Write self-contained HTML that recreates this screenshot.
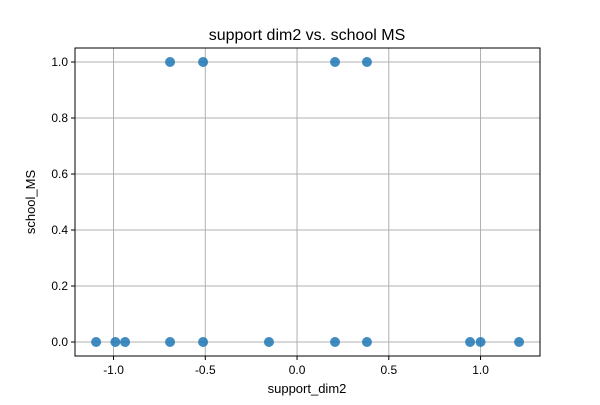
<!DOCTYPE html>
<html><head><meta charset="utf-8"><style>
body{margin:0;background:#fff;font-family:"Liberation Sans","DejaVu Sans",sans-serif}
</style></head><body>
<svg id="chart" width="600" height="400" xmlns="http://www.w3.org/2000/svg">
<rect width="600" height="400" fill="#fff"/>
<g id="grid"></g><g id="pts"></g><g id="axes"></g>
<text x="307" y="40" text-anchor="middle" font-size="16">support dim2 vs. school MS</text>
<text x="307" y="393" text-anchor="middle" font-size="13">support_dim2</text>
<text x="0" y="0" transform="translate(35,202) rotate(-90)" text-anchor="middle" font-size="13">school_MS</text>
</svg>
<script>
const xVals=[-1.095,-0.99,-0.937,-0.692,-0.512,-0.153,0.207,0.381,0.943,1.0,1.21,-0.692,-0.512,0.207,0.381];
const yVals=[0,0,0,0,0,0,0,0,0,0,0,1,1,1,1];
const xTicks=[-1.0,-0.5,0.0,0.5,1.0];
const yTicks=[0.0,0.2,0.4,0.6,0.8,1.0];
const L=75,R=540,T=48,B=356,xmin=-1.21,xmax=1.324,ymin=-0.05,ymax=1.05;
const sx=v=>L+(v-xmin)/(xmax-xmin)*(R-L);
const sy=v=>B-(v-ymin)/(ymax-ymin)*(B-T);
const NS="http://www.w3.org/2000/svg";
function mk(t,a,p){const e=document.createElementNS(NS,t);for(const k in a)e.setAttribute(k,a[k]);p.appendChild(e);return e;}
const g=document.getElementById('grid'),ax=document.getElementById('axes'),pg=document.getElementById('pts');
xTicks.forEach(v=>{const x=sx(v);
const l=mk('line',{x1:x,x2:x,y1:T,y2:B,stroke:'#b0b0b0','stroke-width':1},g);


mk('line',{x1:x,x2:x,y1:B,y2:B+4,stroke:'#000'},ax);
const t=mk('text',{x:x,y:B+18,'text-anchor':'middle','font-size':12},ax);t.textContent=v.toFixed(1);

});
yTicks.forEach(v=>{const y=sy(v);
const l=mk('line',{x1:L,x2:R,y1:y,y2:y,stroke:'#b0b0b0','stroke-width':1},g);


mk('line',{x1:L-4,x2:L,y1:y,y2:y,stroke:'#000'},ax);
const t=mk('text',{x:L-7,y:y+4,'text-anchor':'end','font-size':12},ax);t.textContent=v.toFixed(1);

});
const f=mk('rect',{x:L,y:T,width:R-L,height:B-T,fill:'none',stroke:'#000','stroke-width':1},ax);


xVals.forEach((v,i)=>{const c=mk('circle',{cx:sx(v),cy:sy(yVals[i]),r:5,fill:'#1f77b4','fill-opacity':0.85},pg);

});
</script>
</body></html>
